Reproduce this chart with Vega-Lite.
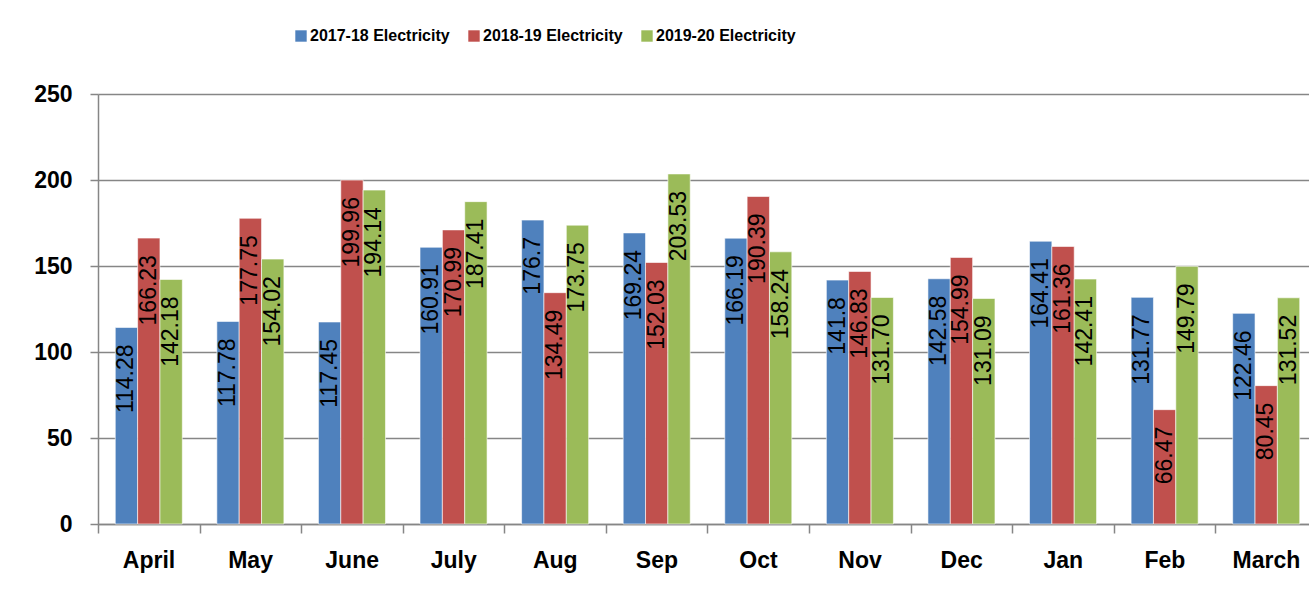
{
  "$schema": "https://vega.github.io/schema/vega-lite/v6.json",
  "width": 1211,
  "height": 430,
  "padding": {"left": 98, "top": 94, "right": 0, "bottom": 75},
  "autosize": {"type": "none"},
  "background": "white",
  "config": {"view": {"stroke": null}, "font": "Liberation Sans"},
  "data": {
    "values": [
      {"month": "April", "series": "2017-18 Electricity", "value": 114.28, "label": "114.28"},
      {"month": "April", "series": "2018-19 Electricity", "value": 166.23, "label": "166.23"},
      {"month": "April", "series": "2019-20 Electricity", "value": 142.18, "label": "142.18"},
      {"month": "May", "series": "2017-18 Electricity", "value": 117.78, "label": "117.78"},
      {"month": "May", "series": "2018-19 Electricity", "value": 177.75, "label": "177.75"},
      {"month": "May", "series": "2019-20 Electricity", "value": 154.02, "label": "154.02"},
      {"month": "June", "series": "2017-18 Electricity", "value": 117.45, "label": "117.45"},
      {"month": "June", "series": "2018-19 Electricity", "value": 199.96, "label": "199.96"},
      {"month": "June", "series": "2019-20 Electricity", "value": 194.14, "label": "194.14"},
      {"month": "July", "series": "2017-18 Electricity", "value": 160.91, "label": "160.91"},
      {"month": "July", "series": "2018-19 Electricity", "value": 170.99, "label": "170.99"},
      {"month": "July", "series": "2019-20 Electricity", "value": 187.41, "label": "187.41"},
      {"month": "Aug", "series": "2017-18 Electricity", "value": 176.7, "label": "176.7"},
      {"month": "Aug", "series": "2018-19 Electricity", "value": 134.49, "label": "134.49"},
      {"month": "Aug", "series": "2019-20 Electricity", "value": 173.75, "label": "173.75"},
      {"month": "Sep", "series": "2017-18 Electricity", "value": 169.24, "label": "169.24"},
      {"month": "Sep", "series": "2018-19 Electricity", "value": 152.03, "label": "152.03"},
      {"month": "Sep", "series": "2019-20 Electricity", "value": 203.53, "label": "203.53"},
      {"month": "Oct", "series": "2017-18 Electricity", "value": 166.19, "label": "166.19"},
      {"month": "Oct", "series": "2018-19 Electricity", "value": 190.39, "label": "190.39"},
      {"month": "Oct", "series": "2019-20 Electricity", "value": 158.24, "label": "158.24"},
      {"month": "Nov", "series": "2017-18 Electricity", "value": 141.8, "label": "141.8"},
      {"month": "Nov", "series": "2018-19 Electricity", "value": 146.83, "label": "146.83"},
      {"month": "Nov", "series": "2019-20 Electricity", "value": 131.7, "label": "131.70"},
      {"month": "Dec", "series": "2017-18 Electricity", "value": 142.58, "label": "142.58"},
      {"month": "Dec", "series": "2018-19 Electricity", "value": 154.99, "label": "154.99"},
      {"month": "Dec", "series": "2019-20 Electricity", "value": 131.09, "label": "131.09"},
      {"month": "Jan", "series": "2017-18 Electricity", "value": 164.41, "label": "164.41"},
      {"month": "Jan", "series": "2018-19 Electricity", "value": 161.36, "label": "161.36"},
      {"month": "Jan", "series": "2019-20 Electricity", "value": 142.41, "label": "142.41"},
      {"month": "Feb", "series": "2017-18 Electricity", "value": 131.77, "label": "131.77"},
      {"month": "Feb", "series": "2018-19 Electricity", "value": 66.47, "label": "66.47"},
      {"month": "Feb", "series": "2019-20 Electricity", "value": 149.79, "label": "149.79"},
      {"month": "March", "series": "2017-18 Electricity", "value": 122.46, "label": "122.46"},
      {"month": "March", "series": "2018-19 Electricity", "value": 80.45, "label": "80.45"},
      {"month": "March", "series": "2019-20 Electricity", "value": 131.52, "label": "131.52"}
    ]
  },
  "encoding": {
    "x": {
      "field": "month",
      "type": "nominal",
      "sort": ["April", "May", "June", "July", "Aug", "Sep", "Oct", "Nov", "Dec", "Jan", "Feb", "March"],
      "scale": {"range": [0, 1219], "paddingInner": 0.34, "paddingOuter": 0.17},
      "axis": {
        "title": null,
        "bandPosition": 0,
        "tickOffset": -17.3,
        "labelOffset": 17,
        "labelAngle": 0,
        "labelFontSize": 23,
        "labelFontWeight": "bold",
        "labelColor": "black",
        "labelPadding": 16,
        "tickSize": 9,
        "tickColor": "#868686",
        "tickWidth": 1.5,
        "domainColor": "#868686",
        "domainWidth": 1.5,
        "grid": false
      }
    },
    "xOffset": {
      "field": "series",
      "type": "nominal",
      "sort": ["2017-18 Electricity", "2018-19 Electricity", "2019-20 Electricity"],
      "scale": {"paddingInner": 0, "paddingOuter": 0}
    },
    "y": {
      "field": "value",
      "type": "quantitative",
      "scale": {"domain": [0, 250], "nice": false},
      "axis": {
        "title": null,
        "values": [0, 50, 100, 150, 200, 250],
        "labelFontSize": 23,
        "labelFontWeight": "bold",
        "labelColor": "black",
        "labelPadding": 18,
        "tickSize": 8,
        "tickColor": "#868686",
        "tickWidth": 1.5,
        "domainColor": "#868686",
        "domainWidth": 1.5,
        "grid": true,
        "gridColor": "#868686",
        "gridWidth": 1.3
      }
    }
  },
  "layer": [
    {
      "mark": {"type": "bar", "stroke": "white", "strokeWidth": 0.6},
      "encoding": {
        "color": {
          "field": "series",
          "type": "nominal",
          "sort": ["2017-18 Electricity", "2018-19 Electricity", "2019-20 Electricity"],
          "scale": {"range": ["#4F81BD", "#C0504D", "#9BBB59"]},
          "legend": {
            "orient": "none",
            "legendX": 195,
            "legendY": -66,
            "direction": "horizontal",
            "title": null,
            "symbolType": "square",
            "symbolSize": 130,
            "symbolStrokeWidth": 0,
            "labelFontSize": 16,
            "labelFontWeight": "bold",
            "labelColor": "black",
            "labelOffset": 1,
            "columnPadding": 16,
            "padding": 0
          }
        }
      }
    },
    {
      "mark": {"type": "text", "angle": 270, "align": "right", "baseline": "middle", "dx": -17, "fontSize": 23, "color": "black"},
      "encoding": {"text": {"field": "label", "type": "nominal"}}
    }
  ]
}
